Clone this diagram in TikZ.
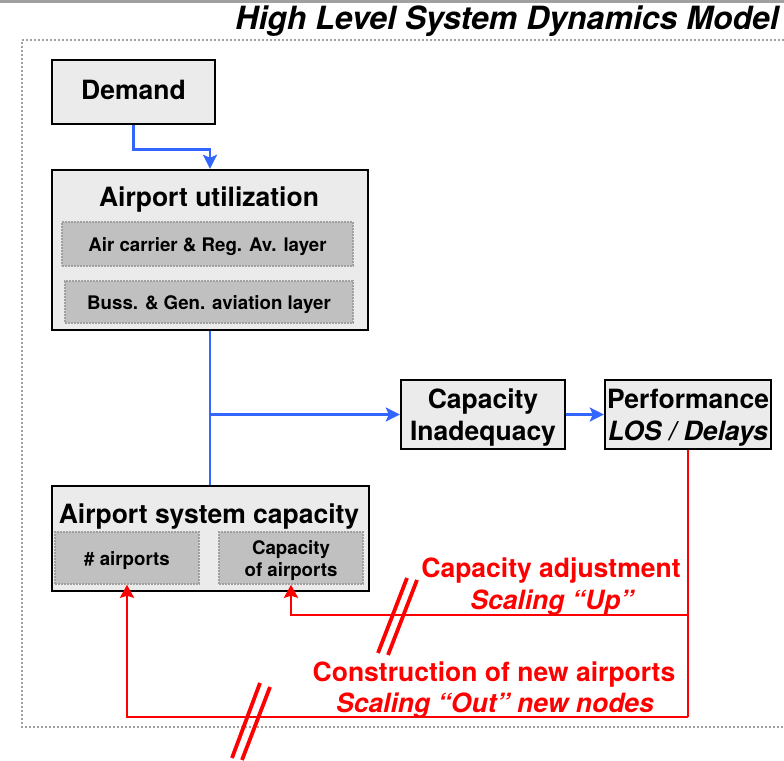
\documentclass[tikz,border=0pt]{standalone}
\usepackage{fontspec}
\setmainfont{TeX Gyre Heros}
\usetikzlibrary{arrows.meta}
\definecolor{boxfill}{HTML}{EBEBEB}
\definecolor{layerfill}{HTML}{C0C0C0}
\definecolor{framegray}{HTML}{A0A0A0}
\definecolor{flowblue}{HTML}{3366FF}
\definecolor{loopred}{HTML}{FF0000}
\tikzset{
  mainbox/.style={draw=black, line width=2.4pt, fill=boxfill, inner sep=0pt},
  layerbox/.style={draw=framegray, line width=1.5pt, dash pattern=on 1.6pt off 1.4pt, fill=layerfill, inner sep=0pt},
  bigtext/.style={font=\fontsize{26.5}{31.5}\selectfont\bfseries, align=center, inner sep=0pt, yshift=-3pt},
  smalltext/.style={font=\fontsize{18.7}{22.5}\selectfont\bfseries, align=center, inner sep=0pt, yshift=-2.5pt},
  redtext/.style={font=\fontsize{26.5}{29.5}\selectfont\bfseries, text=loopred, align=center, inner sep=0pt, yshift=-3pt},
  blueflow/.style={draw=flowblue, line width=2.6pt},
  redflow/.style={draw=loopred, line width=2.6pt},
  bluetip/.style={-{Stealth[length=14pt,width=14pt,inset=3pt]}},
  redtip/.style={-{Stealth[length=13pt,width=14pt,inset=2pt]}},
  breakmark/.style={draw=loopred, line width=3.8pt},
}
\begin{document}
\begin{tikzpicture}[x=1pt,y=-1pt]
\useasboundingbox (0,0) rectangle (784,760);
% top rule and dotted frame
\fill[framegray] (0,0) rectangle (784,3);
\draw[framegray, line width=2pt, dash pattern=on 2pt off 2pt] (800,40) -- (22,40) -- (22,727) -- (800,727);
\node[anchor=base east, inner sep=0pt, font=\fontsize{32}{36}\selectfont\bfseries\itshape] (title) at (779,30) {High Level System Dynamics Model};

% demand
\node[mainbox, minimum width=163pt, minimum height=64pt] (dem) at (133.5,92) {};
\node[bigtext, yshift=3pt] (demt) at (133.5,90) {Demand};

% airport utilization
\node[mainbox, minimum width=316pt, minimum height=160pt] (au) at (210,250) {};
\node[bigtext] (aut) at (209,197) {Airport utilization};
\node[layerbox, minimum width=291pt, minimum height=44pt] (l1) at (207.5,244) {};
\node[smalltext] (l1t) at (l1.center) {Air carrier \& Reg. Av. layer};
\node[layerbox, minimum width=288pt, minimum height=42pt] (l2) at (209,302) {};
\node[smalltext] (l2t) at (l2.center) {Buss. \& Gen. aviation layer};

% capacity inadequacy and performance
\node[mainbox, minimum width=164pt, minimum height=69pt] (ci) at (483,414.5) {};
\node[bigtext] (cit) at (ci.center) {Capacity\\Inadequacy};
\node[mainbox, minimum width=166pt, minimum height=69pt] (perf) at (688,414.5) {};
\node[bigtext] (perft) at (perf.center) {Performance\\\itshape LOS / Delays};

% airport system capacity
\node[mainbox, minimum width=317pt, minimum height=105pt] (asc) at (210.5,538.5) {};
\node[bigtext] (asct) at (209,514) {Airport system capacity};
\node[layerbox, minimum width=144pt, minimum height=52pt] (nap) at (127,558) {};
\node[smalltext] (napt) at (nap.center) {\# airports};
\node[layerbox, minimum width=144pt, minimum height=52pt] (cap) at (291,558) {};
\node[smalltext] (capt) at (cap.center) {Capacity\\of airports};

% blue flows
\draw[blueflow, bluetip] (dem.south) -- ++(0,24) -| (au.north);
\draw[blueflow] (au.south) -- (au.south |- asc.north);
\draw[blueflow, bluetip] (au.south |- ci.west) -- (ci.west);
\draw[blueflow, bluetip] (ci.east) -- (perf.west);

% red feedback loops
\coordinate (yup) at (0,615);
\coordinate (ylow) at (0,717);
\draw[redflow] (perf.south) -- (perf.south |- ylow);
\draw[redflow, redtip] (perf.south |- yup) -| (cap.south);
\draw[redflow, redtip] (perf.south |- ylow) -| (nap.south);

% delay marks
\draw[breakmark] (378,653) -- (407,578);
\draw[breakmark] (388,655) -- (417,580);
\draw[breakmark] (232,758) -- (260,683);
\draw[breakmark] (242,760) -- (270,687);

% loop labels
\node[redtext] (adj) at (551,568) {Capacity adjustment};
\node[redtext, font=\fontsize{26.5}{29.5}\selectfont\bfseries\itshape] (adj2) at (552,600) {Scaling ``Up''};
\node[redtext] (con) at (494,672) {Construction of new airports};
\node[redtext, font=\fontsize{26.5}{29.5}\selectfont\bfseries\itshape] (con2) at (495,703) {Scaling ``Out'' new nodes};
\end{tikzpicture}
\end{document}
